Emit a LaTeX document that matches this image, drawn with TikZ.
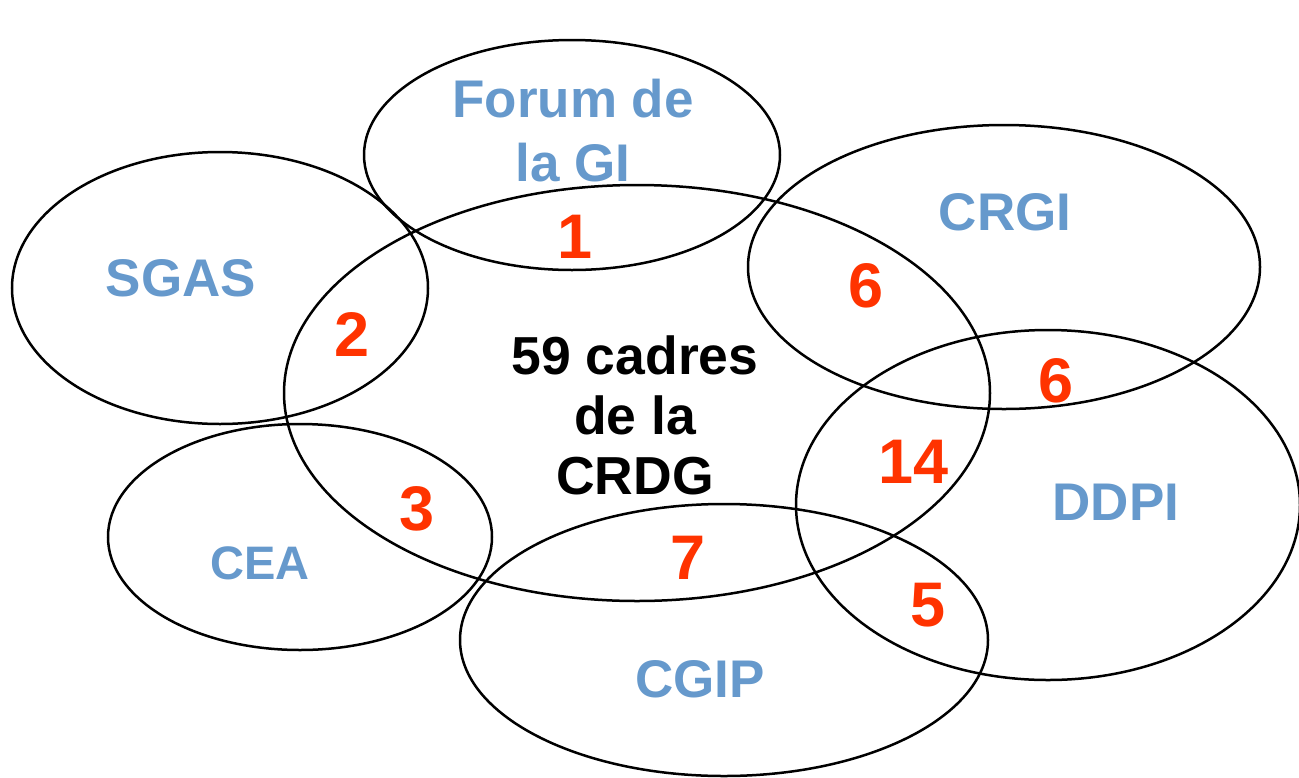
\documentclass[tikz,border=0pt]{standalone}
\usepackage{fontspec}
\setmainfont{Liberation Sans}
\usetikzlibrary{shapes.geometric}
\definecolor{lblue}{RGB}{102,153,204}
\definecolor{nred}{RGB}{255,51,0}
\tikzset{
  oval/.style={draw=black, line width=2.5pt, ellipse, inner sep=0pt},
  grp/.style={text=lblue, font=\bfseries\fontsize{53}{64}\selectfont, inner sep=0pt, anchor=base},
  num/.style={text=nred, font=\bfseries\fontsize{63}{70}\selectfont, inner sep=0pt, anchor=base},
}
\begin{document}
\begin{tikzpicture}[x=1pt,y=-1pt]
\useasboundingbox (0,0) rectangle (1299,777);
% ellipses
\node[oval, minimum width=706pt, minimum height=416pt] (crdg) at (637,393) {};
\node[oval, minimum width=416pt, minimum height=230pt] (forum) at (572,155) {};
\node[oval, minimum width=416pt, minimum height=272pt] (sgas) at (220,288) {};
\node[oval, minimum width=512pt, minimum height=284pt] (crgi) at (1004,267) {};
\node[oval, minimum width=504pt, minimum height=350pt] (ddpi) at (1048,505) {};
\node[oval, minimum width=384pt, minimum height=226pt] (cea) at (300,537) {};
\node[oval, minimum width=528pt, minimum height=272pt] (cgip) at (724,640) {};
% labels
\node[text=lblue, font=\bfseries\fontsize{53}{64}\selectfont, align=center, inner sep=0pt] (tforum) at (573,131) {Forum de\\la GI};
\node[grp] (tsgas) at (181,296) {SGAS};
\node[grp] (tcrgi) at (1005,230) {CRGI};
\node[grp] (tddpi) at (1116,520) {DDPI};
\node[grp, font=\bfseries\fontsize{47}{56}\selectfont] (tcea) at (260,579) {CEA};
\node[grp] (tcgip) at (700,697) {CGIP};
\node[text=black, font=\bfseries\fontsize{53.5}{60}\selectfont, align=center, inner sep=0pt] (tcrdg) at (635,415) {59 cadres\\de la\\CRDG};
% numbers
\node[num] (n1) at (575,258) {1};
\node[num] (n2) at (352,356) {2};
\node[num] (n6a) at (866,307) {6};
\node[num] (n6b) at (1056,402) {6};
\node[num] (n14) at (914,483) {14};
\node[num] (n3) at (417,530) {3};
\node[num] (n7) at (688,579) {7};
\node[num] (n5) at (928,626) {5};
\end{tikzpicture}
\end{document}
